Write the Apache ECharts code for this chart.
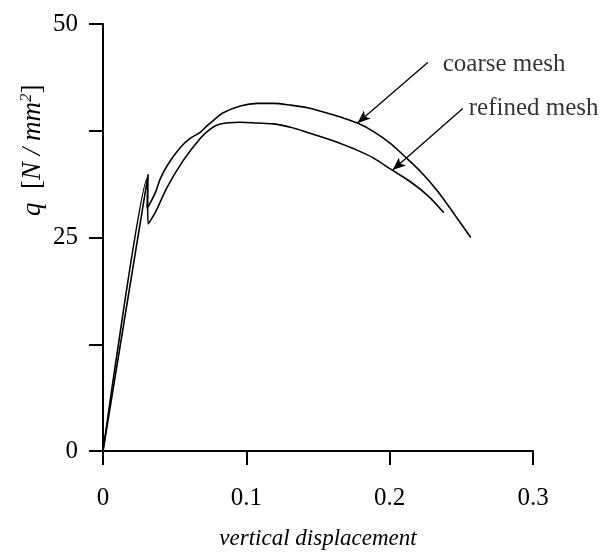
<!DOCTYPE html>
<html>
<head>
<meta charset="utf-8">
<script src="https://cdn.jsdelivr.net/npm/echarts@6/dist/echarts.min.js"></script>
<style>
  html, body { margin: 0; padding: 0; background: #fff; }
  #chart { width: 614px; height: 552px; }
</style>
</head>
<body>
<div id="chart"></div>
<script>
// curve values: [vertical displacement, q]
var coarseMesh = [
  [0, 0], [0.0315, 32.4], [0.0308, 28.4], [0.0364, 30.2], [0.0400, 31.9],
  [0.0455, 33.6], [0.0538, 35.5], [0.0608, 36.6], [0.0678, 37.3],
  [0.0727, 38.1], [0.0769, 38.7], [0.0839, 39.6], [0.0958, 40.4], [0.1077, 40.7],
  [0.1189, 40.7], [0.1308, 40.5], [0.1427, 40.2], [0.1538, 39.7], [0.1657, 39.1],
  [0.1776, 38.4], [0.1888, 37.4], [0.2007, 36.0], [0.2098, 34.6], [0.2217, 32.7],
  [0.2336, 30.4], [0.2448, 27.8], [0.2566, 25.0]
];
var refinedMesh = [
  [0, 0], [0.0308, 31.9], [0.0315, 26.6], [0.0364, 27.9], [0.0448, 30.9],
  [0.0559, 34.0], [0.0678, 36.6], [0.0748, 37.7], [0.0818, 38.3], [0.0958, 38.5],
  [0.1077, 38.4], [0.1189, 38.3], [0.1308, 37.9], [0.1427, 37.3], [0.1538, 36.7],
  [0.1657, 36.0], [0.1776, 35.2], [0.1888, 34.3], [0.2007, 33.0], [0.2147, 31.5],
  [0.2266, 29.9], [0.2378, 27.9]
];
// annotation arrows: [from, to] in data units, and label anchors
var coarseArrow = [[0.2266, 45.5], [0.1776, 38.4]];
var refinedArrow = [[0.2510, 40.1], [0.2021, 32.9]];
var annotations = [
  { name: 'coarse mesh', value: [0.2370, 45.3] },
  { name: 'refined mesh', value: [0.2552, 40.1] }
];
var xTicks = [0, 0.1, 0.2, 0.3];
var yLabels = [0, 25, 50];

var serif = 'Liberation Serif';

var chart = echarts.init(document.getElementById('chart'));

var curveStyle = { color: '#000', width: 1.6 };

var option = {
  backgroundColor: '#fff',
  animation: false,
  grid: { left: 103, right: 81, top: 24, bottom: 101, containLabel: false, outerBoundsMode: 'none' },
  xAxis: {
    type: 'value',
    min: 0,
    max: 0.3,
    interval: 0.1,
    splitLine: { show: false },
    axisLine: { onZero: false, lineStyle: { color: '#000', width: 2 } },
    axisTick: { inside: false, length: 14, lineStyle: { color: '#000', width: 2 } },
    axisLabel: {
      margin: 35,
      color: '#000',
      fontFamily: serif,
      fontSize: 25,
      formatter: function (v) {
        for (var i = 0; i < xTicks.length; i++) {
          if (Math.abs(v - xTicks[i]) < 1e-9) return String(xTicks[i]);
        }
        return '';
      }
    },
    name: 'vertical displacement',
    nameLocation: 'middle',
    nameGap: 76,
    nameTextStyle: { color: '#000', fontFamily: serif, fontStyle: 'italic', fontSize: 23 }
  },
  yAxis: {
    type: 'value',
    min: 0,
    max: 50,
    interval: 12.5,
    splitLine: { show: false },
    axisLine: { onZero: false, lineStyle: { color: '#000', width: 2 } },
    axisTick: { inside: false, length: 14, lineStyle: { color: '#000', width: 2 } },
    axisLabel: {
      margin: 25,
      color: '#000',
      fontFamily: serif,
      fontSize: 25,
      formatter: function (v) {
        return yLabels.indexOf(v) >= 0 ? String(v) : '';
      }
    }
  },
  graphic: [
    {
      type: 'text',
      x: 18,
      y: 216,
      rotation: Math.PI / 2,
      style: {
        text: '{i|q}  [{i|N / mm}{sup|2}]',
        fill: '#000',
        font: '27px "Liberation Serif"',
        rich: {
          i: { fontStyle: 'italic', fontFamily: serif, fontSize: 27 },
          sup: { fontStyle: 'italic', fontFamily: serif, fontSize: 17, padding: [0, 0, 13, 0] }
        }
      }
    }
  ],
  series: [
    {
      name: 'coarse mesh',
      type: 'line',
      data: coarseMesh,
      showSymbol: false,
      smooth: 0.3,
      lineStyle: curveStyle,
      markLine: {
        silent: true,
        symbol: ['none', 'arrow'],
        symbolSize: [8, 13],
        label: { show: false },
        lineStyle: { color: '#000', width: 1.3, type: 'solid' },
        data: [
          [{ coord: coarseArrow[0] }, { coord: coarseArrow[1] }],
          [{ coord: refinedArrow[0] }, { coord: refinedArrow[1] }]
        ]
      }
    },
    {
      name: 'refined mesh',
      type: 'line',
      data: refinedMesh,
      showSymbol: false,
      smooth: 0.3,
      lineStyle: curveStyle
    },
    {
      type: 'scatter',
      data: annotations,
      symbolSize: 0,
      silent: true,
      label: {
        show: true,
        position: 'right',
        distance: 0,
        formatter: '{b}',
        color: '#000',
        fontFamily: serif,
        fontSize: 25
      }
    }
  ]
};

chart.setOption(option);
</script>
</body>
</html>
